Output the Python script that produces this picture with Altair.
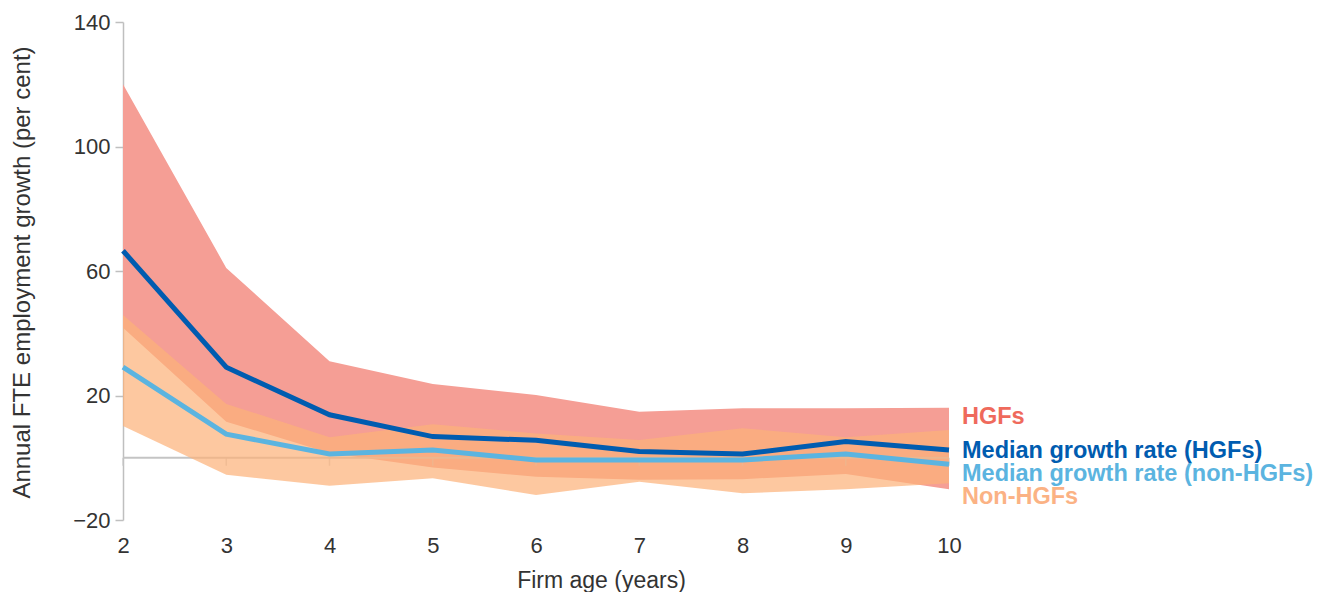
import altair as alt
import pandas as pd

# Firm age (years)
age = [2, 3, 4, 5, 6, 7, 8, 9, 10]
# Range bands (per cent)
hgf_upper = [120, 61, 31, 23.7, 20.2, 14.8, 15.9, 15.9, 16.1]
hgf_lower = [41.8, 11.6, 1.5, -3.1, -6.1, -7.1, -6.9, -5.2, -10.1]
non_upper = [45.9, 17.3, 6.6, 10.8, 7.8, 5.7, 9.5, 6.6, 8.9]
non_lower = [10.2, -5.5, -9.0, -6.6, -12.0, -7.7, -11.4, -10.1, -8.2]
# Medians (per cent)
med_hgf = [66.5, 29.1, 13.8, 6.8, 5.6, 2.0, 1.2, 5.2, 2.5]
med_non = [29.1, 7.6, 1.2, 2.5, -0.7, -0.7, -0.7, 1.2, -2.1]

# Direct labels
label_text = ["HGFs", "Median growth rate (HGFs)", "Median growth rate (non-HGFs)", "Non-HGFs"]
label_y = [13.1, 2.2, -5.2, -12.6]
label_color = ["#EF6A5C", "#005CB0", "#5BB4E0", "#FBB284"]

y_ticks = [-20, 20, 60, 100, 140]

df = pd.DataFrame({
    "age": age,
    "hgf_upper": hgf_upper,
    "hgf_lower": hgf_lower,
    "non_upper": non_upper,
    "non_lower": non_lower,
    "med_hgf": med_hgf,
    "med_non": med_non,
    "zero": [0] * len(age),
})
labels = pd.DataFrame({
    "label": label_text,
    "y": label_y,
    "x": [age[-1]] * len(label_text),
})

FONT = "Liberation Sans"
xscale = alt.Scale(domain=[2, 10], nice=False, zero=False)
yscale = alt.Scale(domain=[-20, 140], nice=False, zero=False)

xaxis = alt.Axis(
    values=age, format="d", ticks=False, domain=False, grid=False,
    labelFontSize=22, labelColor="#333333", labelPadding=15, labelFont=FONT,
    labelFlush=False,
    title="Firm age (years)", titleFontSize=23, titleFontWeight="normal",
    titleColor="#333333", titleFont=FONT, titleX=478, titleY=60,
    titleBaseline="middle",
)
yaxis = alt.Axis(
    values=y_ticks, grid=False,
    labelFontSize=22, labelColor="#333333", labelPadding=5, labelFont=FONT,
    labelFlush=False,
    domainColor="#BFBFBF", domainWidth=1.5, tickColor="#BFBFBF",
    tickSize=8, tickWidth=1.5,
    title="Annual FTE employment growth (per cent)", titleFontSize=24,
    titleFontWeight="normal", titleColor="#333333", titleFont=FONT,
    titleX=-101, titleY=250, titleBaseline="middle", titleAngle=270,
)


def X(field):
    return alt.X(field, type="quantitative", scale=xscale, axis=xaxis)


def Y(field):
    return alt.Y(field, type="quantitative", scale=yscale, axis=yaxis)


base = alt.Chart(df)

hgf_band = base.mark_area(color="#F59E95").encode(
    x=X("age"), y=Y("hgf_lower"), y2="hgf_upper"
)
zero_line = base.mark_line(color="#C4C4C4", strokeWidth=2).encode(
    x=X("age"), y=Y("zero")
)
zero_ticks = base.mark_tick(
    orient="vertical", color="#C4C4C4", size=8, thickness=1.5, yOffset=4
).encode(x=X("age"), y=Y("zero"))
non_band = base.mark_area(color="#FCB279", opacity=0.71).encode(
    x=X("age"), y=Y("non_lower"), y2="non_upper"
)
line_non = base.mark_line(color="#5BB4E0", strokeWidth=5).encode(
    x=X("age"), y=Y("med_non")
)
line_hgf = base.mark_line(color="#005CB0", strokeWidth=5).encode(
    x=X("age"), y=Y("med_hgf")
)
text = alt.Chart(labels).mark_text(
    align="left", baseline="middle", dx=13, fontSize=23.5, fontWeight="bold", font=FONT
).encode(
    x=X("x"), y=Y("y"), text="label:N",
    color=alt.Color("label:N", scale=alt.Scale(domain=label_text, range=label_color), legend=None),
)

chart = alt.layer(
    hgf_band, zero_line, zero_ticks, non_band, line_non, line_hgf, text
).properties(
    width=826, height=498,
    padding={"left": 115, "top": 14, "right": 370, "bottom": 72},
    autosize=alt.AutoSizeParams(type="none"),
).configure_view(stroke=None)

chart.save("out.html", embed_options={"renderer": "svg", "actions": False})
